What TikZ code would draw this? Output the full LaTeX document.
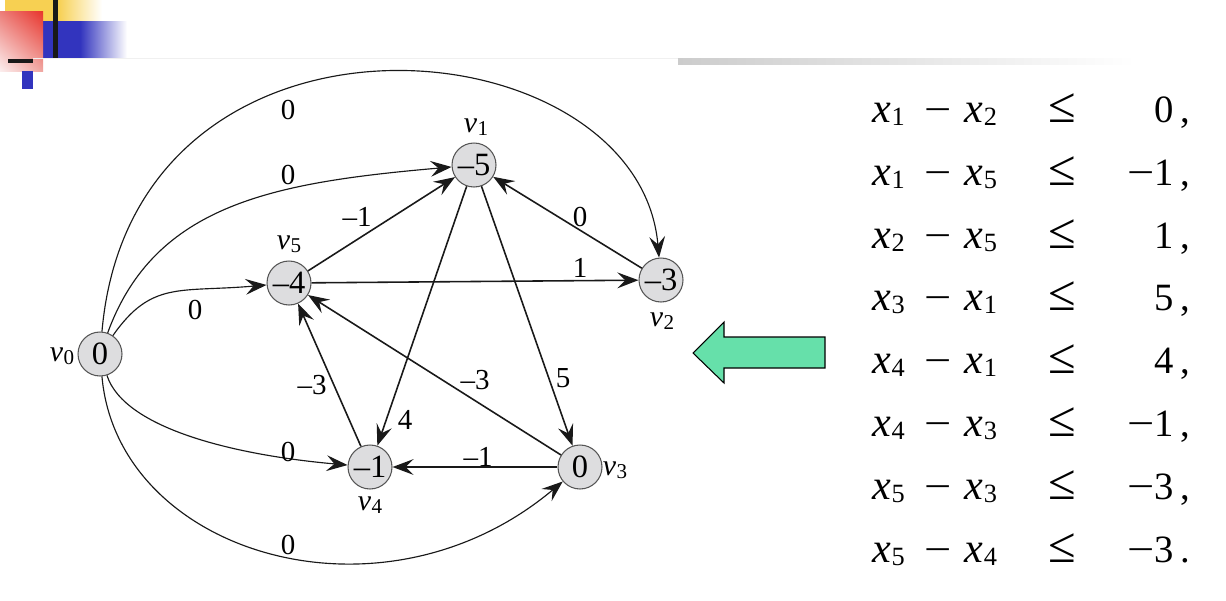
\documentclass[tikz,border=0pt]{standalone}
\usepackage{fontspec}
\setmainfont{Liberation Serif}
\usetikzlibrary{arrows.meta,shadings}
\definecolor{nodefill}{RGB}{221,221,223}
\definecolor{nodeline}{RGB}{85,85,85}
\definecolor{arrowgreen}{RGB}{102,224,170}
\definecolor{decoyellow}{RGB}{247,208,82}
\definecolor{decoblue}{RGB}{50,52,190}
\definecolor{decored}{RGB}{232,52,44}
\definecolor{decoredA}{RGB}{236,125,120}
\definecolor{decoredB}{RGB}{240,165,160}
\definecolor{decoredC}{RGB}{252,238,238}
\newcommand\sbs[2]{\raisebox{-2pt}{\fontsize{#1}{#1}\selectfont #2}}
\newcommand\vlab[1]{\textit{v}\kern0.2pt\sbs{12}{#1}}
\newcommand\xlab[1]{{\fontsize{24}{24}\selectfont\textit{x}}\kern0.3pt\sbs{15}{#1}}
\newcommand\mminus{\scalebox{1.25}[1]{−}}
\newcommand\lhs[2]{\xlab{#1}\hspace{11.4pt}\mminus\hspace{7.2pt}\xlab{#2}}
\begin{document}
\begin{tikzpicture}[x=0.02cm,y=0.02cm,
  vert/.style={circle,draw=nodeline,fill=nodefill,line width=0.6pt,minimum size=0.88cm,inner sep=0pt,font=\fontsize{18.5}{18.5}\selectfont},
  elab/.style={font=\fontsize{16.5}{16.5}\selectfont,inner sep=0pt},
  vlabel/.style={font=\fontsize{17}{17}\selectfont,inner sep=0pt},
  tipped/.style={-{Stealth[length=12pt,width=9pt,inset=4.5pt]},draw=black!90},
  straight/.style={tipped,line width=0.9pt},
  curved/.style={tipped,line width=0.65pt},
  eq/.style={font=\fontsize{22}{22}\selectfont,inner sep=0pt}
]
\useasboundingbox (0,0) rectangle (1226,600);
\fill[white] (0,0) rectangle (1226,600);

% decoration
\fill[decoyellow] (5,600) rectangle (58,579);
\shade[left color=decoyellow,right color=white] (58,600) rectangle (102,579);
\fill[decoblue] (43,579) rectangle (80,542);
\shade[left color=decoblue,right color=white] (80,579) rectangle (127,542);
\fill[black!90] (53,600) rectangle (58,542);
\shade[upper left=decoredA,upper right=decored,lower left=decoredC,lower right=decoredB] (0,529) rectangle (43,589);
\fill[black!90] (8,541) rectangle (33,537);
\fill[decoblue] (22,529) rectangle (33,511);
\draw[gray!12,line width=0.5pt] (33,541.5) -- (678,541.5);
\shade[left color=gray!40,right color=white] (678,541.5) rectangle (1135,536);

% vertices
\node[vert] (v0) at (100,246) {0};
\node[vert] (v5) at (289,317) {–4};
\node[vert] (v1) at (474,435) {–5};
\node[vert] (v2) at (661,320) {–3};
\node[vert] (v4) at (370,133) {–1};
\node[vert] (v3) at (580,133) {0};

\node[vlabel] (lv0) at (62,244) {\vlab{0}};
\node[vlabel] (lv1) at (476,473) {\vlab{1}};
\node[vlabel] (lv2) at (662,279) {\vlab{2}};
\node[vlabel] (lv3) at (615,130) {\vlab{3}};
\node[vlabel] (lv4) at (370,95) {\vlab{4}};
\node[vlabel] (lv5) at (289,356) {\vlab{5}};

% edges
\draw[curved] (v0) .. controls +(85:380) and +(95:260) .. (v2);
\draw[curved] (v0) .. controls +(70:160) and +(185:200) .. (v1);
\draw[curved] (v0) .. controls +(55:90) and +(185:110) .. (v5);
\draw[curved] (v0) .. controls +(-72:80) and +(175:130) .. (v4);
\draw[curved] (v0) .. controls +(-85:200) and +(220:260) .. (v3);
\draw[straight] (v5) -- (v1);
\draw[straight] (v5) -- (v2);
\draw[straight] (v2) -- (v1);
\draw[straight] (v1) -- (v4);
\draw[straight] (v1) -- (v3);
\draw[straight] (v4) -- (v5);
\draw[straight] (v3) -- (v5);
\draw[straight] (v3) -- (v4);

% edge labels
\node[elab] (e02) at (288,490) {0};
\node[elab] (e01) at (288,425) {0};
\node[elab] (e05) at (195,290) {0};
\node[elab] (e51) at (357,383) {–1};
\node[elab] (e21) at (580,383) {0};
\node[elab] (e52) at (580,332) {1};
\node[elab] (e35) at (475,220) {–3};
\node[elab] (e13) at (563,222) {5};
\node[elab] (e45) at (312,215) {–3};
\node[elab] (e14) at (405,180) {4};
\node[elab] (e04) at (288,148) {0};
\node[elab] (e34) at (478,143) {–1};
\node[elab] (e03) at (288,55) {0};

% green arrow
\draw[fill=arrowgreen,draw=black,line width=0.6pt,line join=miter]
  (693,247) -- (724,278) -- (724,263) -- (825,263) -- (825,232) -- (724,232) -- (724,217) -- cycle;

% constraints
\node[eq,anchor=base west] (l1) at (872,478) {\lhs{1}{2}};
\node[eq,anchor=base west] (l2) at (872,415) {\lhs{1}{5}};
\node[eq,anchor=base west] (l3) at (872,352) {\lhs{2}{5}};
\node[eq,anchor=base west] (l4) at (872,290) {\lhs{3}{1}};
\node[eq,anchor=base west] (l5) at (872,227) {\lhs{4}{1}};
\node[eq,anchor=base west] (l6) at (872,164) {\lhs{4}{3}};
\node[eq,anchor=base west] (l7) at (872,101) {\lhs{5}{3}};
\node[eq,anchor=base west] (l8) at (872,38) {\lhs{5}{4}};

\node[eq,anchor=base] (q1) at (1062,478) {\scalebox{1.3}{≤}};
\node[eq,anchor=base] (q2) at (1062,415) {\scalebox{1.3}{≤}};
\node[eq,anchor=base] (q3) at (1062,352) {\scalebox{1.3}{≤}};
\node[eq,anchor=base] (q4) at (1062,290) {\scalebox{1.3}{≤}};
\node[eq,anchor=base] (q5) at (1062,227) {\scalebox{1.3}{≤}};
\node[eq,anchor=base] (q6) at (1062,164) {\scalebox{1.3}{≤}};
\node[eq,anchor=base] (q7) at (1062,101) {\scalebox{1.3}{≤}};
\node[eq,anchor=base] (q8) at (1062,38) {\scalebox{1.3}{≤}};

\node[eq,anchor=base east] (r1) at (1191,478) {0\hspace{4pt},};
\node[eq,anchor=base east] (r2) at (1191,415) {\mminus1\hspace{4pt},};
\node[eq,anchor=base east] (r3) at (1191,352) {1\hspace{4pt},};
\node[eq,anchor=base east] (r4) at (1191,290) {5\hspace{4pt},};
\node[eq,anchor=base east] (r5) at (1191,227) {4\hspace{4pt},};
\node[eq,anchor=base east] (r6) at (1191,164) {\mminus1\hspace{4pt},};
\node[eq,anchor=base east] (r7) at (1191,101) {\mminus3\hspace{4pt},};
\node[eq,anchor=base east] (r8) at (1191,38) {\mminus3\hspace{4pt}.};
\end{tikzpicture}
\end{document}
